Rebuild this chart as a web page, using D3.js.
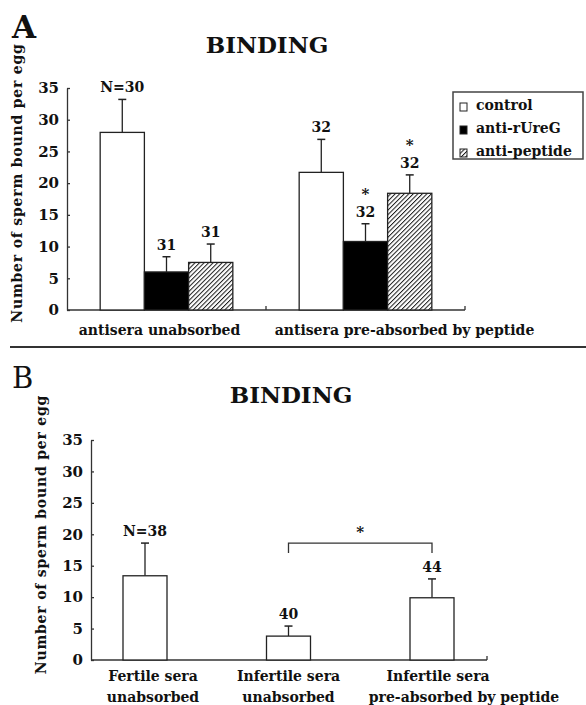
<!DOCTYPE html>
<html>
<head>
<meta charset="utf-8">
<script src="https://cdn.jsdelivr.net/npm/d3@7"></script>
<style>
	body { margin: 0; background: #fff; }
	svg { display: block; }
	text { font-family: "DejaVu Serif", "Liberation Serif", serif; fill: #111; }
</style>
</head>
<body>
<div id="chart"></div>
<script>
/* DATA */

// shared y ticks
var yTicks = [ 0, 5, 10, 15, 20, 25, 30, 35 ];

// panel A: antisera binding
var groupsA = [ "antisera unabsorbed", "antisera pre-absorbed by peptide" ];
var seriesA = [ "control", "anti-rUreG", "anti-peptide" ];
var meansA = [ [ 28, 6, 7.5 ], [ 21.7, 10.8, 18.4 ] ];
var errA = [ [ 5.2, 2.4, 2.9 ], [ 5.2, 2.8, 2.9 ] ];
var nA = [ [ "N=30", "31", "31" ], [ "32", "32", "32" ] ];
var starA = [ [ false, false, false ], [ false, true, true ] ];

// panel B: sera binding
var groupsB = [ [ "Fertile sera", "unabsorbed" ], [ "Infertile sera", "unabsorbed" ], [ "Infertile sera", "pre-absorbed by peptide" ] ];
var meansB = [ 13.4, 3.8, 9.9 ];
var errB = [ 5.2, 1.6, 3.0 ];
var nB = [ "N=38", "40", "44" ];
var bracketB = [ 1, 2 ]; // bars joined by the significance bracket
var bracketLevel = 18.6;

var title = "BINDING",
	yTitle = "Number of sperm bound per egg";

/* SETUP */
var width = 586,
	height = 705;

var svg = d3.select( "#chart" ).append( "svg" )
	.attr( "width", width )
	.attr( "height", height );

// hatch pattern for anti-peptide
svg.append( "defs" ).append( "pattern" )
	.attr( "id", "hatch" )
	.attr( "patternUnits", "userSpaceOnUse" )
	.attr( "width", 3.2 )
	.attr( "height", 3.2 )
	.attr( "patternTransform", "rotate(45)" )
	.call( function ( p ) {
		p.append( "rect" ).attr( "width", 3.2 ).attr( "height", 3.2 ).attr( "fill", "#fff" );
		p.append( "line" ).attr( "x1", 0 ).attr( "y1", 0 ).attr( "x2", 0 ).attr( "y2", 3.2 )
			.attr( "stroke", "#1a1a1a" ).attr( "stroke-width", 2 );
	} );

var fills = { "control": "#fff", "anti-rUreG": "#000", "anti-peptide": "url(#hatch)" };

// y axis helper (ticks point inward)
function drawYAxis( g, y, x ) {
	g.append( "g" )
		.attr( "transform", "translate(" + x + ",0)" )
		.call( d3.axisLeft( y ).tickValues( yTicks ).tickSizeInner( -3 ).tickSizeOuter( 0 ).tickPadding( 8 ) )
		.call( function ( a ) {
			a.select( ".domain" ).attr( "stroke", "#333" ).attr( "stroke-width", 1.3 );
			a.selectAll( ".tick line" ).attr( "stroke", "#333" ).attr( "stroke-width", 1.3 );
			a.selectAll( ".tick text" ).attr( "font-family", "DejaVu Serif" ).attr( "font-size", 15 )
				.attr( "font-weight", "bold" ).attr( "fill", "#111" );
		} );
}

// error bar helper
function errorBar( g, cx, yTop, yEnd ) {
	g.append( "line" ).attr( "x1", cx ).attr( "x2", cx ).attr( "y1", yTop ).attr( "y2", yEnd )
		.attr( "stroke", "#222" ).attr( "stroke-width", 1.3 );
	g.append( "line" ).attr( "x1", cx - 4 ).attr( "x2", cx + 4 ).attr( "y1", yEnd ).attr( "y2", yEnd )
		.attr( "stroke", "#222" ).attr( "stroke-width", 1.5 );
}

/* PANEL A */
var aLeft = 67,
	aRight = 465,
	yA = d3.scaleLinear().domain( [ 0, 35 ] ).range( [ 310, 88 ] );

var x0 = d3.scaleBand().domain( groupsA ).range( [ aLeft, aRight ] ),
	x1 = d3.scaleBand().domain( seriesA ).range( [ x0.bandwidth() / 6, x0.bandwidth() * 5 / 6 ] );

var gA = svg.append( "g" );

gA.append( "text" ).attr( "x", 12 ).attr( "y", 38 ).attr( "font-size", 31 ).attr( "font-weight", "bold" ).text( "A" );
gA.append( "text" ).attr( "x", 267 ).attr( "y", 53 ).attr( "text-anchor", "middle" )
	.attr( "font-size", 23 ).attr( "font-weight", "bold" ).text( title );

gA.append( "text" )
	.attr( "transform", "translate(22," + ( yA( 0 ) + 10 + yA( 35 ) - 42 ) / 2 + ") rotate(-90)" )
	.attr( "text-anchor", "middle" )
	.attr( "font-size", 14 ).attr( "font-weight", "bold" ).attr( "letter-spacing", 0.8 )
	.text( yTitle );

drawYAxis( gA, yA, aLeft );

// x axis line + boundary ticks
gA.append( "line" ).attr( "x1", aLeft ).attr( "x2", aRight ).attr( "y1", yA( 0 ) ).attr( "y2", yA( 0 ) )
	.attr( "stroke", "#333" ).attr( "stroke-width", 1.3 );
gA.selectAll( ".xtick" ).data( groupsA ).enter().append( "line" )
	.attr( "x1", function ( d ) { return x0( d ) + x0.bandwidth(); } )
	.attr( "x2", function ( d ) { return x0( d ) + x0.bandwidth(); } )
	.attr( "y1", yA( 0 ) ).attr( "y2", yA( 0 ) - 4 )
	.attr( "stroke", "#333" ).attr( "stroke-width", 1.3 );

var labelShiftA = [ -7, 39 ];
gA.selectAll( ".xlab" ).data( groupsA ).enter().append( "text" )
	.attr( "x", function ( d, i ) { return x0( d ) + x0.bandwidth() / 2 + labelShiftA[ i ]; } )
	.attr( "y", yA( 0 ) + 25 )
	.attr( "text-anchor", "middle" )
	.attr( "font-size", 14 ).attr( "font-weight", "bold" )
	.text( function ( d ) { return d; } );

// bars, error bars, labels
groupsA.forEach( function ( grp, gi ) {
	seriesA.forEach( function ( s, si ) {
		var bx = x0( grp ) + x1( s ),
			bw = x1.bandwidth(),
			cx = bx + bw / 2,
			top = yA( meansA[ gi ][ si ] ),
			errTop = yA( meansA[ gi ][ si ] + errA[ gi ][ si ] );

		errorBar( gA, cx, top, errTop );

		gA.append( "rect" )
			.attr( "x", bx ).attr( "y", top )
			.attr( "width", bw ).attr( "height", yA( 0 ) - top )
			.attr( "fill", fills[ s ] ).attr( "stroke", "#222" ).attr( "stroke-width", 1.3 );

		gA.append( "text" ).attr( "x", cx ).attr( "y", errTop - 7 )
			.attr( "text-anchor", "middle" ).attr( "font-size", 14 ).attr( "font-weight", "bold" )
			.text( nA[ gi ][ si ] );

		if ( starA[ gi ][ si ] ) {
			gA.append( "text" ).attr( "x", cx ).attr( "y", errTop - 25 )
				.attr( "text-anchor", "middle" ).attr( "font-size", 15 ).attr( "font-weight", "bold" )
				.text( "*" );
		}
	} );
} );

// legend
var leg = gA.append( "g" ).attr( "transform", "translate(453,92)" );
leg.append( "rect" ).attr( "width", 130 ).attr( "height", 67 )
	.attr( "fill", "#fff" ).attr( "stroke", "#444" ).attr( "stroke-width", 1.5 );
seriesA.forEach( function ( s, i ) {
	leg.append( "rect" ).attr( "x", 7 ).attr( "y", 11 + i * 23 ).attr( "width", 7 ).attr( "height", 8 )
		.attr( "fill", fills[ s ] ).attr( "stroke", "#222" ).attr( "stroke-width", 1 );
	leg.append( "text" ).attr( "x", 23 ).attr( "y", 18 + i * 23 )
		.attr( "font-size", 14 ).attr( "font-weight", "bold" ).text( s );
} );

// divider between panels
svg.append( "line" ).attr( "x1", 10 ).attr( "x2", width ).attr( "y1", 347 ).attr( "y2", 347 )
	.attr( "stroke", "#333" ).attr( "stroke-width", 2 );

/* PANEL B */
var bLeft = 91,
	bRight = 487,
	yB = d3.scaleLinear().domain( [ 0, 35 ] ).range( [ 660, 440 ] ),
	xB = d3.scalePoint().domain( d3.range( groupsB.length ) ).range( [ bLeft + 54, bRight - 55 ] ),
	barW = 44;

var gB = svg.append( "g" );

gB.append( "text" ).attr( "x", 12 ).attr( "y", 388 ).attr( "font-size", 29 ).text( "B" );
gB.append( "text" ).attr( "x", 291 ).attr( "y", 403 ).attr( "text-anchor", "middle" )
	.attr( "font-size", 23 ).attr( "font-weight", "bold" ).text( title );

gB.append( "text" )
	.attr( "transform", "translate(46," + ( yB( 0 ) + 12 + yB( 35 ) - 43 ) / 2 + ") rotate(-90)" )
	.attr( "text-anchor", "middle" )
	.attr( "font-size", 14 ).attr( "font-weight", "bold" ).attr( "letter-spacing", 0.8 )
	.text( yTitle );

drawYAxis( gB, yB, bLeft );

gB.append( "line" ).attr( "x1", bLeft ).attr( "x2", bRight ).attr( "y1", yB( 0 ) ).attr( "y2", yB( 0 ) )
	.attr( "stroke", "#333" ).attr( "stroke-width", 1.3 );
gB.append( "line" ).attr( "x1", bRight ).attr( "x2", bRight ).attr( "y1", yB( 0 ) ).attr( "y2", yB( 0 ) - 4 )
	.attr( "stroke", "#333" ).attr( "stroke-width", 1.3 );

var labelShiftB = [ [ 8, 8 ], [ 0, 0 ], [ 6, 32 ] ];
meansB.forEach( function ( v, i ) {
	var cx = xB( i ),
		top = yB( v ),
		errTop = yB( v + errB[ i ] );

	errorBar( gB, cx, top, errTop );

	gB.append( "rect" )
		.attr( "x", cx - barW / 2 ).attr( "y", top )
		.attr( "width", barW ).attr( "height", yB( 0 ) - top )
		.attr( "fill", "#fff" ).attr( "stroke", "#222" ).attr( "stroke-width", 1.3 );

	gB.append( "text" ).attr( "x", cx ).attr( "y", errTop - 7 )
		.attr( "text-anchor", "middle" ).attr( "font-size", 14 ).attr( "font-weight", "bold" )
		.text( nB[ i ] );

	groupsB[ i ].forEach( function ( line, li ) {
		gB.append( "text" ).attr( "x", cx + labelShiftB[ i ][ li ] ).attr( "y", yB( 0 ) + 21 + li * 21 )
			.attr( "text-anchor", "middle" ).attr( "font-size", 14 ).attr( "font-weight", "bold" )
			.text( line );
	} );
} );

// significance bracket
var bx1 = xB( bracketB[ 0 ] ),
	bx2 = xB( bracketB[ 1 ] ),
	by = yB( bracketLevel );
gB.append( "path" )
	.attr( "d", "M" + bx1 + "," + ( by + 10 ) + "V" + by + "H" + bx2 + "V" + ( by + 10 ) )
	.attr( "fill", "none" ).attr( "stroke", "#333" ).attr( "stroke-width", 1.3 );
gB.append( "text" ).attr( "x", ( bx1 + bx2 ) / 2 ).attr( "y", by - 6 )
	.attr( "text-anchor", "middle" ).attr( "font-size", 15 ).attr( "font-weight", "bold" ).text( "*" );
</script>
</body>
</html>
